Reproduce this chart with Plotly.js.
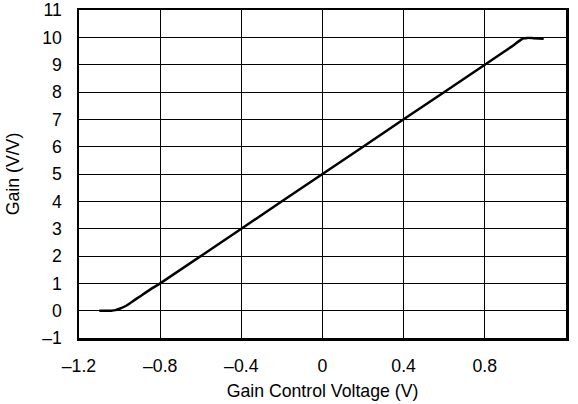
<!DOCTYPE html>
<html><head><meta charset="utf-8">
<script src="https://cdn.plot.ly/plotly-3.0.1.min.js"></script>
<style>body{margin:0;padding:0;background:#fff}#chart{width:578px;height:404px}</style>
</head><body><div id="chart"></div>
<script>
const voltage = [-1.1, -1.07, -1.04, -1.02, -1.0, -0.97, -0.94, -0.9, -0.85, -0.8, -0.4, 0, 0.4, 0.8, 0.9, 0.94, 0.97, 0.99, 1.01, 1.04, 1.09];
const gain    = [0, 0, 0, 0.02, 0.07, 0.17, 0.32, 0.52, 0.77, 1.0, 3.0, 5.0, 7.0, 9.0, 9.5, 9.7, 9.87, 9.96, 9.98, 9.97, 9.95];
const xTickVals = [-1.2, -0.8, -0.4, 0, 0.4, 0.8, 1.2];
const xTickText = ['\u20131.2', '\u20130.8', '\u20130.4', '0', '0.4', '0.8', '1.2'];
const yTickVals = [-1,0,1,2,3,4,5,6,7,8,9,10,11];
const yTickText = ['\u20131','0','1','2','3','4','5','6','7','8','9','10','11'];

const font = {family: 'Liberation Sans, Arial, sans-serif', size: 17.7, color: '#000'};
Plotly.newPlot('chart', [{
  x: voltage, y: gain, type: 'scatter', mode: 'lines',
  line: {color: '#000', width: 2.5, shape: 'spline', smoothing: 0.6},
  hoverinfo: 'skip'
}], {
  width: 578, height: 404,
  margin: {l: 79, r: 12, t: 10, b: 66},
  paper_bgcolor: '#fff', plot_bgcolor: '#fff',
  showlegend: false,
  font: font,
  xaxis: {
    range: [-1.2, 1.2], tickvals: xTickVals, ticktext: xTickText,
    showgrid: true, gridcolor: '#000', gridwidth: 1,
    zeroline: false, showline: true, mirror: true, linecolor: '#000', linewidth: 2.5,
    ticks: '', ticklabelstandoff: 10,
    title: {text: 'Gain Control Voltage (V)', font: {family: font.family, size: 17.7, color: '#000'}, standoff: 10}
  },
  yaxis: {
    range: [-1, 11], tickvals: yTickVals, ticktext: yTickText,
    showgrid: true, gridcolor: '#000', gridwidth: 1,
    zeroline: false, showline: true, mirror: true, linecolor: '#000', linewidth: 2.5,
    ticks: '', ticklabelstandoff: 11,
    title: {text: 'Gain (V/V)', font: {family: font.family, size: 17.7, color: '#000'}, standoff: 18}
  }
}, {displayModeBar: false, staticPlot: true});
</script></body></html>
